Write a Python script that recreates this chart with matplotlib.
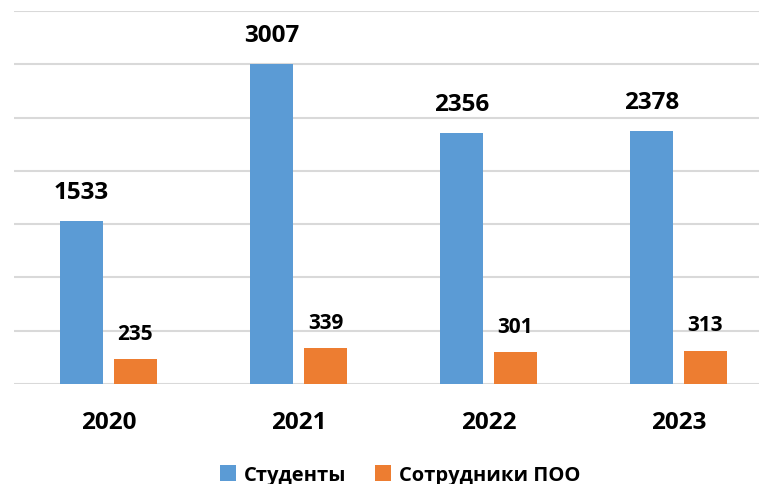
import matplotlib.pyplot as plt
import numpy as np

years = ["2020", "2021", "2022", "2023"]
students = [1533, 3007, 2356, 2378]
staff = [235, 339, 301, 313]

plt.rcParams['font.family'] = ['Open Sans', 'DejaVu Sans']

fig = plt.figure(figsize=(7.59, 4.85), dpi=100)
# axes extends past the right edge like the original
ax = fig.add_axes([13.5 / 759, 100 / 485, (759 - 13.5) / 759, 373 / 485])

x = np.arange(len(years))
w = 0.226
off = 0.142
b1 = ax.bar(x - off, students, w, color="#5B9BD5", label="Студенты", zorder=3)
b2 = ax.bar(x + off, staff, w, color="#ED7D31", label="Сотрудники ПОО", zorder=3)

for rect, v in zip(b1, students):
    ax.annotate(str(v), (rect.get_x() + rect.get_width() / 2, v),
                xytext=(0, 12), textcoords="offset points",
                ha="center", va="bottom", fontsize=17.5, fontweight="bold")
for rect, v in zip(b2, staff):
    ax.annotate(str(v), (rect.get_x() + rect.get_width() / 2, v),
                xytext=(0, 11), textcoords="offset points",
                ha="center", va="bottom", fontsize=15, fontweight="bold")

ax.set_xlim(-0.5, -0.5 + (759 - 13.5) / 190)
ax.set_ylim(0, 3500)
ax.set_yticks(np.arange(0, 3501, 500))
ax.set_yticklabels([])
ax.set_xticks(x)
ax.set_xticklabels(years, fontsize=17.5, fontweight="bold")
ax.tick_params(axis="both", length=0)
ax.tick_params(axis="x", pad=19)
ax.grid(axis="y", color="#D9D9D9", linewidth=1.5, zorder=0)
for s in ax.spines.values():
    s.set_visible(False)

fig.legend(loc="center", bbox_to_anchor=(400 / 759, 1 - 476 / 485), ncol=2,
           frameon=False, prop={"size": 14.5, "weight": "bold"},
           handlelength=0.8, handleheight=0.8, handletextpad=0.4, columnspacing=1.4)

fig.savefig("out.png", dpi=100)
